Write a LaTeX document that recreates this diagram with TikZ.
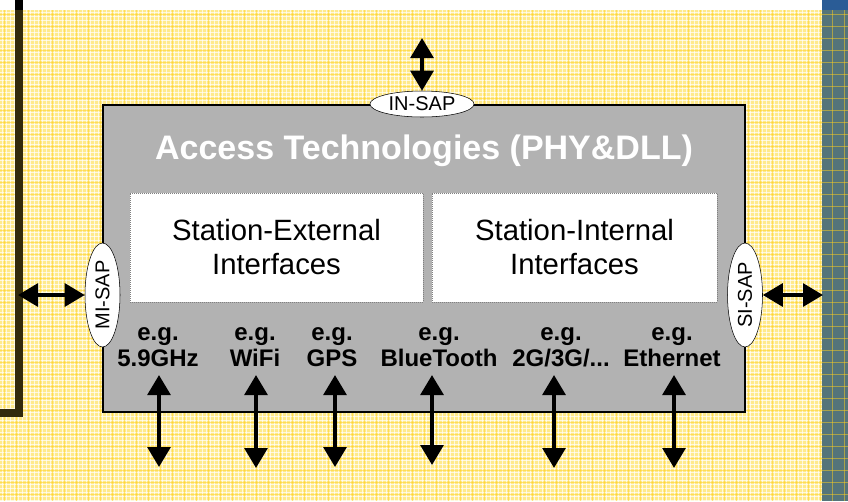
\documentclass[tikz,border=0pt]{standalone}
\usepackage{fontspec}
\setmainfont{Liberation Sans}
\usetikzlibrary{arrows.meta,shapes.geometric}
\definecolor{bgyellow}{RGB}{255,234,140}
\definecolor{gridgold}{RGB}{255,208,30}
\definecolor{stripblue}{RGB}{42,92,150}
\definecolor{stripmix}{RGB}{84,116,122}
\definecolor{boxgray}{RGB}{178,178,178}
\definecolor{wireolive}{RGB}{50,42,12}

\tikzset{
  dblarrow/.style={{Triangle[length=15pt,width=17pt]}-{Triangle[length=15pt,width=17pt]}, line width=3pt},
  sap/.style={draw, fill=white, ellipse, inner sep=0pt, minimum width=78pt, font=\fontsize{15}{17}\selectfont},
  ifbox/.style={draw=gray, densely dotted, line width=0.5pt, fill=white, minimum height=81.75pt, align=center, font=\fontsize{22}{25.5}\selectfont},
  eglabel/.style={anchor=south, align=center, inner xsep=0pt, inner ysep=6pt, font=\fontsize{18}{19.5}\selectfont\bfseries}
}

\begin{document}
\begin{tikzpicture}[x=0.75pt, y=-0.75pt]
    \useasboundingbox (0,0) rectangle (848,501);

    % background sheet
    \fill[white] (0,0) rectangle (848,501);
    \fill[bgyellow] (0,10) rectangle (848,501);
    \fill[stripblue] (822,0) rectangle (848,10);
    \fill[stripmix] (822,10) rectangle (848,501);
    \foreach \gx in {2,6,...,820} {
        \draw[white, line width=0.5pt, opacity=0.7] (\gx,10) -- (\gx,501);
    }
    \foreach \gy in {12,16,...,501} {
        \draw[white, line width=0.5pt, opacity=0.7] (0,\gy) -- (822,\gy);
    }
    \foreach \gx in {4,16,...,848} {
        \draw[gridgold, line width=0.5pt, opacity=0.5] (\gx,10) -- (\gx,501);
    }
    \foreach \gy in {14,26,...,501} {
        \draw[gridgold, line width=0.5pt, opacity=0.5] (0,\gy) -- (848,\gy);
    }
    \draw[wireolive, line width=6.5pt] (19,0) -- (19,413) -- (-5,413);
    \draw[black, line width=6.5pt] (19,0) -- (19,10);

    % access technologies block
    \node[draw=black, line width=1.2pt, fill=boxgray, inner sep=0pt, minimum width=481.5pt, minimum height=230.25pt] (access) at (424,258.5) {};
    \node[text=white, font=\fontsize{25.5}{30}\selectfont\bfseries] (title) at (424,151) {Access Technologies (PHY\&DLL)};

    \node[ifbox, minimum width=219.75pt] (extif) at (276.5,247.5) {Station-External\\Interfaces};
    \node[ifbox, minimum width=213.75pt] (intif) at (574.5,247.5) {Station-Internal\\Interfaces};

    % service access points
    \node[sap, minimum height=19.5pt] (insap) at (422,104) {IN-SAP};
    \node[sap, minimum height=26.25pt, rotate=90] (misap) at (102.5,295) {MI-SAP};
    \node[sap, minimum height=26.25pt, rotate=90] (sisap) at (745,295) {SI-SAP};

    \coordinate (inend) at (422,38);
    \coordinate (miend) at (18,295);
    \coordinate (siend) at (823,295);
    \draw[dblarrow] (inend) -- (insap);
    \draw[dblarrow] (miend) -- (misap);
    \draw[dblarrow] (sisap) -- (siend);

    % example technologies
    \node[eglabel] (ghz) at (158,375) {e.g.\\5.9GHz};
    \node[eglabel] (wifi) at (255,375) {e.g.\\WiFi};
    \node[eglabel] (gps) at (332,375) {e.g.\\GPS};
    \node[eglabel] (bt) at (439,375) {e.g.\\BlueTooth};
    \node[eglabel] (cell) at (561,375) {e.g.\\2G/3G/...};
    \node[eglabel] (eth) at (672,375) {e.g.\\Ethernet};

    \coordinate (ghzend) at (159,467);
    \coordinate (wifiend) at (256,468);
    \coordinate (gpsend) at (335,467);
    \coordinate (btend) at (432,465);
    \coordinate (cellend) at (554,468);
    \coordinate (ethend) at (674,468);
    \draw[dblarrow] (ghz.south -| ghzend) -- (ghzend);
    \draw[dblarrow] (wifi.south -| wifiend) -- (wifiend);
    \draw[dblarrow] (gps.south -| gpsend) -- (gpsend);
    \draw[dblarrow] (bt.south -| btend) -- (btend);
    \draw[dblarrow] (cell.south -| cellend) -- (cellend);
    \draw[dblarrow] (eth.south -| ethend) -- (ethend);
\end{tikzpicture}
\end{document}
